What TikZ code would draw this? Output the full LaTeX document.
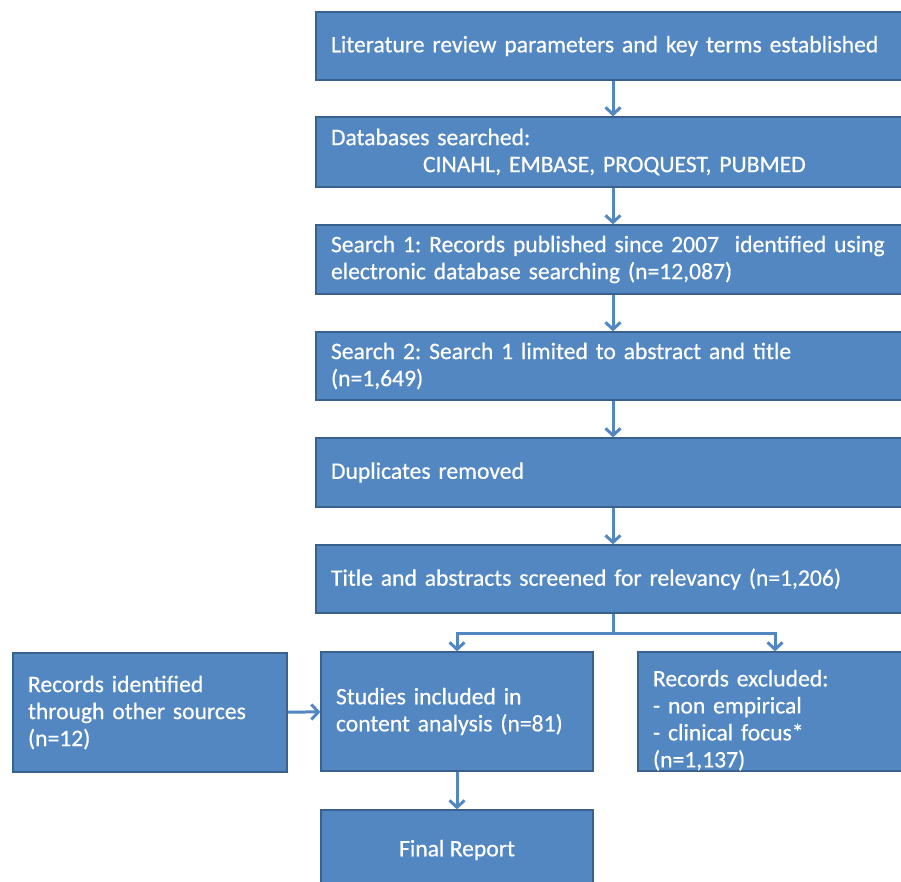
\documentclass[tikz,border=0pt]{standalone}
\usepackage{fontspec}
\setmainfont{Carlito}
\newfontfamily\boxfont[FakeBold=0.6]{Carlito}
\usetikzlibrary{arrows.meta}
\definecolor{boxblue}{RGB}{82,135,194}
\definecolor{boxline}{RGB}{58,96,142}
\tikzset{
  box/.style={draw=boxline, line width=1.2pt, fill=boxblue, text=white,
    font=\boxfont\fontsize{23.6}{27}\selectfont\frenchspacing, inner xsep=15pt, inner ysep=0pt, align=left},
  wide/.style={box, minimum width=594pt, text width=564pt},
  flow/.style={draw=boxblue, line width=3pt, -{Straight Barb[length=7pt,width=15pt]}}
}
\begin{document}
\begin{tikzpicture}[x=1pt,y=-1pt]
\useasboundingbox (0,0) rectangle (901,882);
\node [wide, minimum height=68pt] (lit) at (613,46) {Literature review parameters and key terms established};
\node [wide, minimum height=70pt] (dbs) at (613,152) {Databases searched:\\\hspace*{92pt}CINAHL, EMBASE, PROQUEST, PUBMED};
\node [wide, minimum height=69pt] (sone) at (613,259.5) {Search 1: Records published since 2007 \ identified using\\electronic database searching (n=12,087)};
\node [wide, minimum height=68pt] (stwo) at (613,366) {Search 2: Search 1 limited to abstract and title\\(n=1,649)};
\node [wide, minimum height=69pt] (dup) at (613,472.5) {Duplicates removed};
\node [wide, minimum height=68pt] (scr) at (613,579) {Title and abstracts screened for relevancy (n=1,206)};
\node [box, minimum width=272pt, text width=242pt, minimum height=119pt] (incl) at (457,711.5) {Studies included in\\content analysis (n=81)};
\node [box, minimum width=274pt, text width=244pt, minimum height=119pt, text height=34pt] (excl) at (775,711.5) {Records excluded:\\- non empirical\\- clinical focus*\\(n=1,137)};
\node [box, minimum width=274pt, text width=244pt, minimum height=119pt] (other) at (150,712.5) {Records identified\\through other sources\\(n=12)};
\node [box, minimum width=272pt, minimum height=80pt, align=center] (final) at (457,850) {Final Report};
\draw [flow] (lit) -- (dbs);
\draw [flow] (dbs) -- (sone);
\draw [flow] (sone) -- (stwo);
\draw [flow] (stwo) -- (dup);
\draw [flow] (dup) -- (scr);
\draw [boxblue, line width=3pt] (scr.south) -- ++(0,20) coordinate (fork);
\draw [flow] (fork) -| (incl.north);
\draw [flow] (fork) -| (excl.north);
\draw [flow] (other) -- (incl);
\draw [flow] (incl) -- (final);
\end{tikzpicture}
\end{document}
